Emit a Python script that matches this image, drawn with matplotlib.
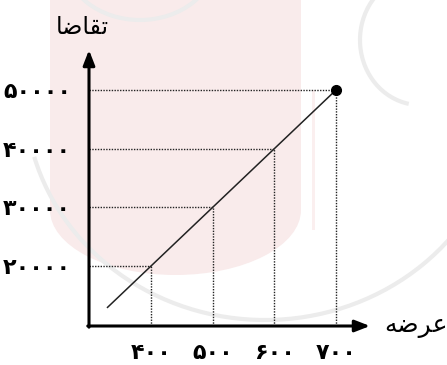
import matplotlib
matplotlib.use("Agg")
import matplotlib.pyplot as plt
from matplotlib import patches, transforms

plt.rcParams['font.family'] = ['DejaVu Sans', 'Noto Sans']

# ---- data ----
supply = [400, 500, 600, 700]                       # x values (عرضه)
demand = [20000, 30000, 40000, 50000]               # y values (تقاضا)
x_tick_labels = ['۴۰۰', '۵۰۰', '۶۰۰', '۷۰۰']
y_tick_labels = ['۲۰۰۰۰', '۳۰۰۰۰', '۴۰۰۰۰', '۵۰۰۰۰']
line_x = [330, 700]
line_y = [13000, 50000]
x_label = '\uFEEA\uFEBF\uFEAE\uFECB'            # عرضه (shaped, visual order)
y_label = '\uFE8E\uFEBF\uFE8E\uFED8\uFE97'      # تقاضا (shaped, visual order)

W, H = 447, 365
fig = plt.figure(figsize=(W / 100, H / 100), dpi=100)
fig.patch.set_facecolor('white')

# pixel -> figure transform (y down) for the faint background watermark
tpx = transforms.Affine2D().scale(1 / W, -1 / H).translate(0, 1) + fig.transFigure
pink = '#f9ebeb'
fig.add_artist(patches.Rectangle((50, -5), 251, 215, transform=tpx, color=pink, lw=0, zorder=0))
fig.add_artist(patches.Ellipse((175.5, 210), 251, 130, transform=tpx, color=pink, lw=0, zorder=0))
fig.add_artist(patches.Rectangle((312, 90), 3, 140, transform=tpx, color='#fbefef', lw=0, zorder=0))
grey = '#ececec'
fig.add_artist(patches.Arc((265, 95), 480, 450, theta1=10, theta2=165, transform=tpx,
                           color=grey, lw=3, zorder=0))
fig.add_artist(patches.Arc((140, -40), 150, 120, theta1=0, theta2=180, transform=tpx,
                           color=grey, lw=3, zorder=0))
fig.add_artist(patches.Arc((420, 40), 120, 130, theta1=100, theta2=250, transform=tpx,
                           color=grey, lw=3, zorder=0))

# ---- main axes ----
x0, x1 = 300, 755
y0, y1 = 9830, 56800
ax = fig.add_axes([89 / W, (H - 326) / H, (370 - 89) / W, (326 - 50) / H])
ax.set_xlim(x0, x1)
ax.set_ylim(y0, y1)
ax.patch.set_alpha(0)
for s in ax.spines.values():
    s.set_visible(False)

# axes with arrows
ax.annotate('', xy=(x1, y0), xytext=(x0 - 2, y0),
            arrowprops=dict(arrowstyle='-|>,head_length=0.9,head_width=0.35',
                            color='black', lw=2.2, shrinkA=0, shrinkB=0), annotation_clip=False)
ax.annotate('', xy=(x0, y1), xytext=(x0, y0 - 200),
            arrowprops=dict(arrowstyle='-|>,head_length=0.9,head_width=0.35',
                            color='black', lw=2.2, shrinkA=0, shrinkB=0), annotation_clip=False)

# dotted guide lines
for xv, yv in zip(supply, demand):
    ax.plot([x0, xv], [yv, yv], color='#222222', lw=1.0, ls=(0, (1, 1)), zorder=2)
    ax.plot([xv, xv], [y0, yv], color='#222222', lw=1.0, ls=(0, (1, 1)), zorder=2)

# main line and end point
ax.plot(line_x, line_y, color='#222222', lw=1.1, zorder=3)
ax.plot([supply[-1]], [demand[-1]], 'o', color='black', ms=7, zorder=4)

# ticks
ax.set_xticks(supply)
ax.set_xticklabels(x_tick_labels, fontsize=16, fontweight='bold')
ax.set_yticks(demand)
ax.set_yticklabels(y_tick_labels, fontsize=16, fontweight='bold')
ax.tick_params(axis='both', length=0)
ax.tick_params(axis='x', pad=12)
ax.tick_params(axis='y', pad=13)

# axis labels
fig.text(82 / W, 1 - 27 / H, y_label, ha='center', va='center', fontsize=17)
fig.text(416 / W, 1 - 326 / H, x_label, ha='center', va='center', fontsize=18)

fig.savefig('out.png', dpi=100)
